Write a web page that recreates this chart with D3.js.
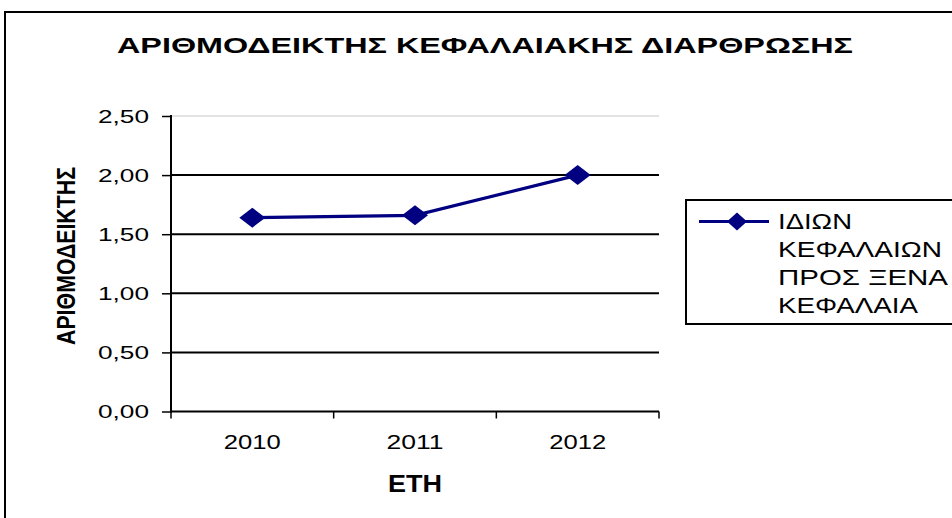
<!DOCTYPE html>
<html>
<head>
<meta charset="utf-8">
<script src="https://cdn.jsdelivr.net/npm/d3@7"></script>
<style>
  html, body { margin: 0; padding: 0; background: #fff; }
  svg { display: block; font-family: "Liberation Sans", Arial, sans-serif; }
</style>
</head>
<body>
<svg id="chart" width="952" height="518"></svg>
<script>
// Chart data
const years = ["2010", "2011", "2012"];
const ratioValues = [1.64, 1.66, 2.00];
const yTicks = [0, 0.5, 1.0, 1.5, 2.0, 2.5];
const yTickLabels = ["0,00", "0,50", "1,00", "1,50", "2,00", "2,50"];
const seriesName = ["ΙΔΙΩΝ", "ΚΕΦΑΛΑΙΩΝ", "ΠΡΟΣ ΞΕΝΑ", "ΚΕΦΑΛΑΙΑ"];
const titleText = "ΑΡΙΘΜΟΔΕΙΚΤΗΣ ΚΕΦΑΛΑΙΑΚΗΣ ΔΙΑΡΘΡΩΣΗΣ";
const yTitleText = "ΑΡΙΘΜΟΔΕΙΚΤΗΣ";
const xTitleText = "ΕΤΗ";

const svg = d3.select("#chart");
const navy = "#000080";

// Outer chart frame (runs past the right and bottom edges)
svg.append("rect")
  .attr("x", 5).attr("y", 12).attr("width", 960).attr("height", 520)
  .attr("fill", "none").attr("stroke", "#000").attr("stroke-width", 2);

// Plot area
const plot = { left: 171, right: 659, top: 116, bottom: 411.5 };

const x = d3.scaleBand().domain(years).range([plot.left, plot.right]);
const y = d3.scaleLinear().domain([0, 2.5]).range([plot.bottom, plot.top]);

// Horizontal gridlines
svg.append("g").selectAll("line")
  .data(yTicks.filter(d => d > 0))
  .join("line")
  .attr("x1", plot.left).attr("x2", plot.right)
  .attr("y1", d => y(d)).attr("y2", d => y(d))
  .attr("stroke", d => d === 2.5 ? "#c8c8c8" : "#000")
  .attr("stroke-width", d => d === 2.5 ? 1 : 2);

// Y axis
const yAxis = d3.axisLeft(y)
  .tickValues(yTicks)
  .tickSize(9)
  .tickPadding(13)
  .tickFormat((d, i) => yTickLabels[i]);
const gy = svg.append("g").attr("transform", `translate(${plot.left},0)`).call(yAxis);
gy.select(".domain").attr("stroke", "#000").attr("stroke-width", 2)
  .attr("d", `M0,${plot.top - 1}V${plot.bottom + 1}`);
gy.selectAll(".tick line").attr("stroke", "#000").attr("stroke-width", 1.5);
gy.selectAll(".tick text")
  .attr("font-size", 18)
  .attr("fill", "#000")
  .attr("dy", "0.36em")
  .attr("textLength", 51)
  .attr("lengthAdjust", "spacingAndGlyphs");

// X axis with ticks on category boundaries
const gx = svg.append("g").attr("transform", `translate(0,${plot.bottom})`);
gx.append("line")
  .attr("x1", plot.left).attr("x2", plot.right)
  .attr("stroke", "#000").attr("stroke-width", 2);
const boundaries = years.map(d => x(d)).concat([x(years[years.length - 1]) + x.bandwidth()]);
gx.selectAll(".xtick").data(boundaries).join("line")
  .attr("class", "xtick")
  .attr("x1", d => d).attr("x2", d => d)
  .attr("y1", 0).attr("y2", 7)
  .attr("stroke", "#000").attr("stroke-width", 1.5);
gx.selectAll(".xlabel").data(years).join("text")
  .attr("class", "xlabel")
  .attr("x", d => x(d) + x.bandwidth() / 2)
  .attr("y", 449 - plot.bottom)
  .attr("text-anchor", "middle")
  .attr("font-size", 19.5)
  .attr("textLength", 57)
  .attr("lengthAdjust", "spacingAndGlyphs")
  .text(d => d);

// Data line
const cx = d => x(d) + x.bandwidth() / 2;
const line = d3.line().x((d, i) => cx(years[i])).y(d => y(d));
svg.append("path")
  .datum(ratioValues)
  .attr("d", line)
  .attr("fill", "none")
  .attr("stroke", navy)
  .attr("stroke-width", 3.2);

// Diamond markers
const diamond = (w, h) => `M0,${-h / 2}L${w / 2},0L0,${h / 2}L${-w / 2},0Z`;
svg.append("g").selectAll("path")
  .data(ratioValues)
  .join("path")
  .attr("transform", (d, i) => `translate(${cx(years[i])},${y(d)})`)
  .attr("d", diamond(26, 20))
  .attr("fill", navy);

// Titles
svg.append("text")
  .attr("x", 485).attr("y", 53)
  .attr("text-anchor", "middle")
  .attr("font-size", 21.5).attr("font-weight", "bold")
  .attr("textLength", 736).attr("lengthAdjust", "spacingAndGlyphs")
  .text(titleText);

svg.append("text")
  .attr("transform", "translate(75,256) rotate(-90)")
  .attr("text-anchor", "middle")
  .attr("font-size", 25).attr("font-weight", "bold")
  .attr("textLength", 178).attr("lengthAdjust", "spacingAndGlyphs")
  .text(yTitleText);

svg.append("text")
  .attr("x", 415).attr("y", 492)
  .attr("text-anchor", "middle")
  .attr("font-size", 23).attr("font-weight", "bold")
  .attr("textLength", 54).attr("lengthAdjust", "spacingAndGlyphs")
  .text(xTitleText);

// Legend
const legend = svg.append("g");
legend.append("rect")
  .attr("x", 686).attr("y", 200).attr("width", 280).attr("height", 124)
  .attr("fill", "#fff").attr("stroke", "#000").attr("stroke-width", 2);
legend.append("line")
  .attr("x1", 699).attr("x2", 769).attr("y1", 221.5).attr("y2", 221.5)
  .attr("stroke", navy).attr("stroke-width", 3.2);
legend.append("path")
  .attr("transform", "translate(737,221.5)")
  .attr("d", diamond(20, 18))
  .attr("fill", navy);
const legendLengths = [74, 164, 170, 140];
legend.selectAll("text").data(seriesName).join("text")
  .attr("x", 778)
  .attr("y", (d, i) => 229 + i * 28)
  .attr("font-size", 21.5)
  .attr("textLength", (d, i) => legendLengths[i])
  .attr("lengthAdjust", "spacingAndGlyphs")
  .text(d => d);
</script>
</body>
</html>
